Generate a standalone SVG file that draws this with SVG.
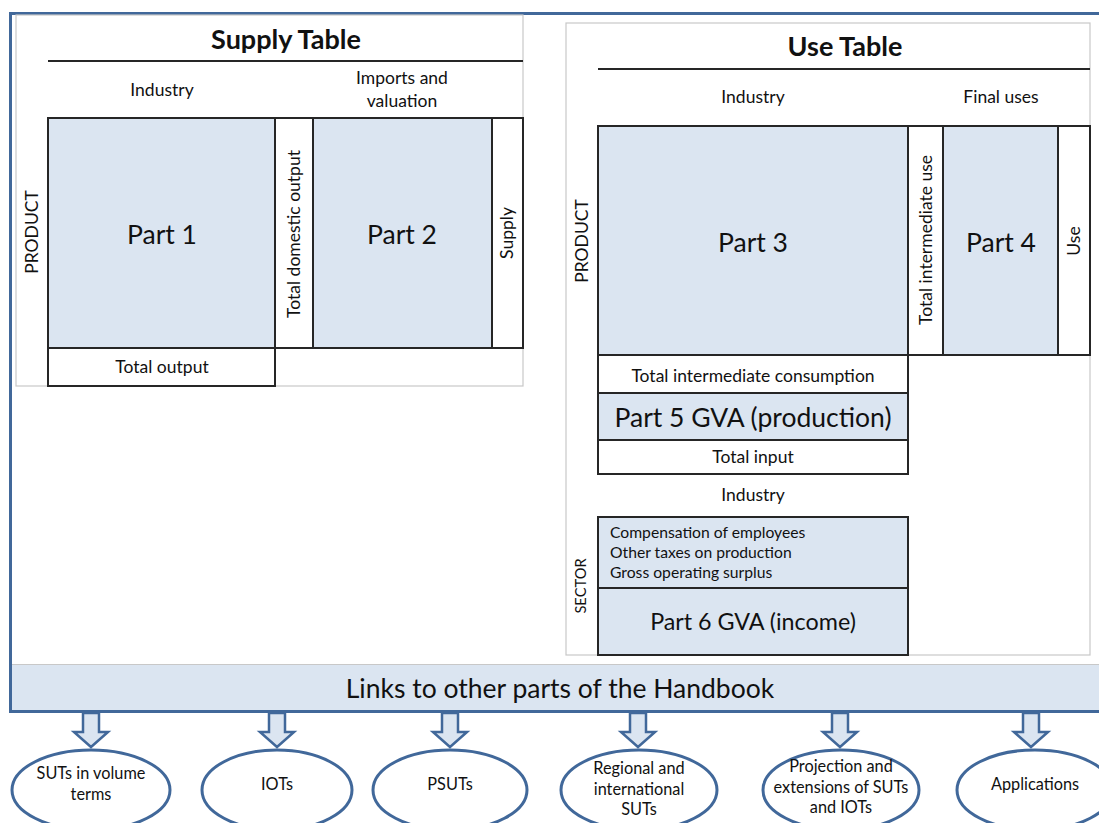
<svg xmlns="http://www.w3.org/2000/svg" width="1099" height="823" viewBox="0 0 1099 823">
<defs>
<style>
text{font-family:Lato,"Liberation Sans",sans-serif;fill:#111}
.panel{fill:#fff;stroke:#c8c8c8;stroke-width:1.2}
.cell{fill:#dbe5f1;stroke:#262626;stroke-width:2}
.wcell{fill:#fff;stroke:#262626;stroke-width:2}
.rule{stroke:#262626;stroke-width:2}
.title{font-size:27px;font-weight:bold;text-anchor:middle}
.lbl{font-size:17.5px;text-anchor:middle}
.big{font-size:26.5px;text-anchor:middle}
.sm{font-size:15.7px}
.ell{fill:#fff;stroke:#41689a;stroke-width:3}
.etx{font-size:16.3px;text-anchor:middle}
.arr{fill:#dbe5f1;stroke:#41689a;stroke-width:2.5;stroke-linejoin:miter}
</style>
</defs>
<rect width="1099" height="823" fill="#fff"/>
<!-- outer frame -->
<rect x="10.5" y="13.5" width="1100" height="698" fill="#fff" stroke="#41689a" stroke-width="3"/>

<g id="supply-table">
<rect class="panel" x="16" y="15" width="507" height="371"/>
<text class="title" x="286" y="49">Supply Table</text>
<line class="rule" x1="48" y1="61" x2="523" y2="61"/>
<text class="lbl" x="162" y="96">Industry</text>
<text class="lbl" x="402" y="84">Imports and</text>
<text class="lbl" x="402" y="107">valuation</text>
<rect class="cell" x="48" y="118" width="227" height="230"/>
<rect class="wcell" x="275" y="118" width="38" height="230"/>
<rect class="cell" x="313" y="118" width="179" height="230"/>
<rect class="wcell" x="492" y="118" width="31" height="230"/>
<rect class="wcell" x="48" y="348" width="227" height="38"/>
<text class="big" x="162" y="244">Part 1</text>
<text class="big" x="402" y="244">Part 2</text>
<text class="lbl" transform="translate(300,234) rotate(-90)">Total domestic output</text>
<text class="lbl" transform="translate(513,233) rotate(-90)">Supply</text>
<text class="lbl" transform="translate(38,232) rotate(-90)">PRODUCT</text>
<text class="lbl" x="162" y="373">Total output</text>
</g>

<g id="use-table">
<rect class="panel" x="566" y="23" width="524" height="632"/>
<text class="title" x="845" y="56">Use Table</text>
<line class="rule" x1="598" y1="69" x2="1090" y2="69"/>
<text class="lbl" x="753" y="103">Industry</text>
<text class="lbl" x="1001" y="103">Final uses</text>
<rect class="cell" x="598" y="126" width="310" height="229"/>
<rect class="wcell" x="908" y="126" width="35" height="229"/>
<rect class="cell" x="943" y="126" width="115" height="229"/>
<rect class="wcell" x="1058" y="126" width="32" height="229"/>
<text class="big" x="753" y="252">Part 3</text>
<text class="big" x="1001" y="252">Part 4</text>
<text class="lbl" transform="translate(932,240) rotate(-90)">Total intermediate use</text>
<text class="lbl" transform="translate(1080,241) rotate(-90)">Use</text>
<text class="lbl" transform="translate(588,241) rotate(-90)">PRODUCT</text>
<rect class="wcell" x="598" y="355" width="310" height="38"/>
<text class="lbl" x="753" y="382">Total intermediate consumption</text>
<rect class="cell" x="598" y="393" width="310" height="47"/>
<text class="big" x="753" y="427">Part 5 GVA (production)</text>
<rect class="wcell" x="598" y="440" width="310" height="34"/>
<text class="lbl" x="753" y="463">Total input</text>
<text class="lbl" x="753" y="501">Industry</text>
<rect class="cell" x="598" y="517" width="310" height="71"/>
<text class="sm" x="610" y="538">Compensation of employees</text>
<text class="sm" x="610" y="558">Other taxes on production</text>
<text class="sm" x="610" y="578">Gross operating surplus</text>
<rect class="cell" x="598" y="588" width="310" height="67"/>
<text class="big" style="font-size:23.3px" x="753" y="630">Part 6 GVA (income)</text>
<text class="lbl" style="font-size:14.7px" transform="translate(586,586) rotate(-90)">SECTOR</text>
</g>

<g id="links-bar">
<rect x="10" y="664.5" width="1100" height="47" fill="#dbe5f1" stroke="#c8c8c8" stroke-width="1"/>
<line x1="10" y1="711.5" x2="1099" y2="711.5" stroke="#41689a" stroke-width="3"/>
<line x1="10.5" y1="664" x2="10.5" y2="712" stroke="#41689a" stroke-width="3"/>
<text class="big" x="560" y="698">Links to other parts of the Handbook</text>
</g>

<g id="connectors">
<path class="arr" d="M83,713 V732 H74 L91,747 L108,732 H99 V713 Z"/>
<path class="arr" d="M269,713 V732 H260 L277,747 L294,732 H285 V713 Z"/>
<path class="arr" d="M442,713 V732 H433 L450,747 L467,732 H458 V713 Z"/>
<path class="arr" d="M630,713 V732 H621 L638,747 L655,732 H646 V713 Z"/>
<path class="arr" d="M832,713 V732 H823 L840,747 L857,732 H848 V713 Z"/>
<path class="arr" d="M1023,713 V732 H1014 L1031,747 L1048,732 H1039 V713 Z"/>
</g>

<g id="node-suts-volume">
<ellipse class="ell" cx="91" cy="790" rx="79" ry="40"/>
<text class="etx" x="91" y="779">SUTs in volume</text>
<text class="etx" x="91" y="800">terms</text>
</g>
<g id="node-iots">
<ellipse class="ell" cx="277" cy="790" rx="75" ry="40"/>
<text class="etx" x="277" y="790">IOTs</text>
</g>
<g id="node-psuts">
<ellipse class="ell" cx="450" cy="790" rx="77" ry="40"/>
<text class="etx" x="450" y="790">PSUTs</text>
</g>
<g id="node-regional">
<ellipse class="ell" cx="639" cy="790" rx="78" ry="40"/>
<text class="etx" x="639" y="774">Regional and</text>
<text class="etx" x="639" y="795">international</text>
<text class="etx" x="639" y="815">SUTs</text>
</g>
<g id="node-projection">
<ellipse class="ell" cx="841" cy="790" rx="78" ry="40"/>
<text class="etx" x="841" y="772">Projection and</text>
<text class="etx" x="841" y="793">extensions of SUTs</text>
<text class="etx" x="841" y="813">and IOTs</text>
</g>
<g id="node-applications">
<ellipse class="ell" cx="1035" cy="790" rx="78" ry="40"/>
<text class="etx" x="1035" y="790">Applications</text>
</g>
</svg>
